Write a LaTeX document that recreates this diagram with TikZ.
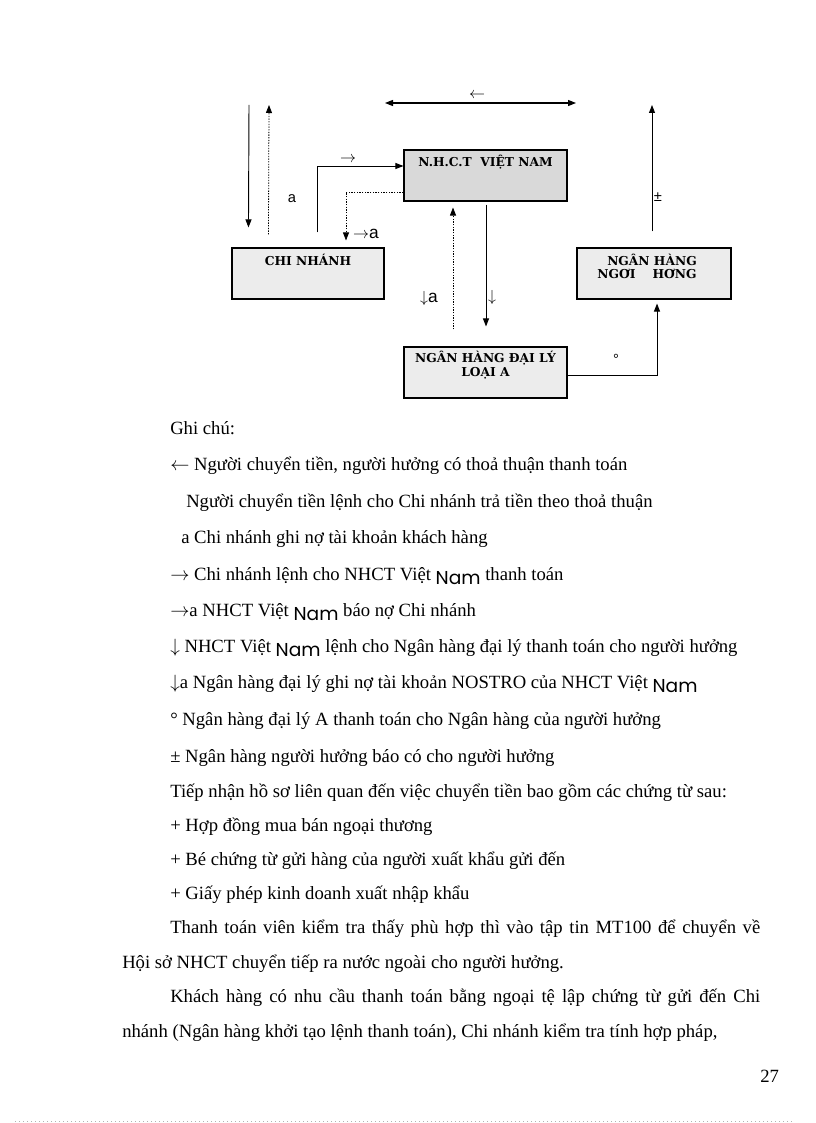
\documentclass[tikz,border=0pt]{standalone}
\usepackage{fontspec}
\setmainfont{Liberation Serif}
\newfontfamily\boxfont{DejaVu Serif}
\newfontfamily\tagfont{Liberation Sans}
\newfontfamily\namfont{Poppins}
\usetikzlibrary{positioning,arrows.meta,calc}
\def\nam{\raisebox{-3pt}{\namfont\fontsize{14}{14}\selectfont Nam}}

\tikzset{
  bank/.style={draw, line width=0.8pt, fill=gray!15, minimum height=38.25pt, inner sep=0pt},
  banktext/.style={anchor=base, inner sep=0pt, font=\boxfont\bfseries\fontsize{9.2}{11}\selectfont},
  flow/.style={->, line width=0.7pt},
  flowdot/.style={->, line width=0.6pt, dash pattern=on 1pt off 1pt},
  tag/.style={inner sep=0pt, font=\tagfont\fontsize{11}{11}\selectfont},
  ln/.style={anchor=base west, inner sep=0pt, font=\fontsize{14}{16}\selectfont}
}

\begin{document}
\begin{tikzpicture}[x=0.75pt, y=-0.75pt, >={Triangle[length=6pt,width=4.5pt]}]
\useasboundingbox (0,0) rectangle (816,1123);

\node [bank, fill=gray!30, minimum width=122.25pt] (nhct) at (485.5,175.5) {};
\node [bank, minimum width=114pt] (chinhanh) at (308,273.5) {};
\node [bank, minimum width=122.25pt] (daily) at (485.5,372.5) {};
\node [bank, minimum width=115.5pt] (huong) at (654,273.5) {};

\node [banktext] (nhcttxt) at ($(nhct.north)+(0,17)$) {N.H.C.T\ \ VIỆT NAM};
\node [banktext] (cntxt) at ($(chinhanh.north)+(0,18.5)$) {CHI NHÁNH};
\node [banktext] (dailytxt) at ($(daily.north)+(0,16.5)$) {NGÂN HÀNG ĐẠI LÝ};
\node [banktext] (dailytxtb) at ($(daily.north)+(0,30.5)$) {LOẠI A};
\node [banktext] (huongtxt) at ($(huong.north)+(-2,18.5)$) {NGÂN HÀNG};
\node [banktext] (huongtxtb) at ($(huong.north)+(-7,31.5)$) {NGƠI\ \ \ \ HƠNG};

\coordinate (topl) at (385,103);
\coordinate (topr) at (576,103);
\coordinate (kin) at (249,105);
\coordinate (kout) at (269,105);
\coordinate (hout) at (652,105);

\draw [<->, line width=0.8pt] (topl) -- (topr);
\draw [flow] (kin) -- ($(chinhanh.north west)+(17,-20)$);
\draw [flowdot] ($(chinhanh.north west)+(37,-13)$) -- (kout);
\draw [flow] ($(chinhanh.north)+(9,-15)$) |- ($(nhct.west)+(0,-9.5)$);
\draw [flowdot] ($(nhct.west)+(0,16.5)$) -| ($(chinhanh.north)+(38,-7)$);
\draw [flowdot] ($(daily.north)+(-32.5,-17)$) -- ($(nhct.south)+(-32.5,6)$);
\draw [flow] ($(nhct.south)+(0.5,3)$) -- ($(daily.north)+(0.5,-20)$);
\draw [flow] ($(huong.north)+(-2,-16)$) -- (hout);
\draw [flow] ($(daily.east)+(0,2.5)$) -| ($(huong.south)+(3,4)$);

\node [tag] (tagtop) at (477,96) {\fontsize{13}{13}\selectfont$\leftarrow$};
\node [tag] (taga) at (292,199) {a};
\node [tag] (tagright) at (348,160) {\fontsize{13}{13}\selectfont$\rightarrow$};
\node [tag] (tagrighta) at (366,234) {\fontsize{13}{13}\selectfont$\rightarrow$a};
\node [tag] (tagdowna) at (429,298) {\fontsize{13}{13}\selectfont$\downarrow$a};
\node [tag] (tagdown) at (492,297) {\fontsize{13}{13}\selectfont$\downarrow$};
\node [tag] (tagpm) at (658,197) {±};
\node [tag] (tagdeg) at (616,359) {°};

\node [ln] (ghichu) at (170,434) {Ghi chú:};
\node [ln] (l1) at (170,470) {$\leftarrow$ Người chuyển tiền, người hưởng có thoả thuận thanh toán};
\node [ln] (l2) at (186,507) {Người chuyển tiền lệnh cho Chi nhánh trả tiền theo thoả thuận};
\node [ln] (l3) at (181,543) {a Chi nhánh ghi nợ tài khoản khách hàng};
\node [ln] (l4) at (170,580) {$\rightarrow$ Chi nhánh lệnh cho NHCT Việt \nam\ thanh toán};
\node [ln] (l5) at (170,616) {$\rightarrow$a NHCT Việt \nam\ báo nợ Chi nhánh};
\node [ln] (l6) at (170,652) {$\downarrow$ NHCT Việt \nam\ lệnh cho Ngân hàng đại lý thanh toán cho người hưởng};
\node [ln] (l7) at (170,688) {$\downarrow$a Ngân hàng đại lý ghi nợ tài khoản NOSTRO của NHCT Việt \nam};
\node [ln] (l8) at (170,725) {° Ngân hàng đại lý A thanh toán cho Ngân hàng của người hưởng};
\node [ln] (l9) at (170,762) {± Ngân hàng người hưởng báo có cho người hưởng};
\node [ln] (l10) at (170,797) {Tiếp nhận hồ sơ liên quan đến việc chuyển tiền bao gồm các chứng từ sau:};
\node [ln] (l11) at (170,831) {+ Hợp đồng mua bán ngoại thương};
\node [ln] (l12) at (170,865) {+ Bé chứng từ gửi hàng của người xuất khẩu gửi đến};
\node [ln] (l13) at (170,899) {+ Giấy phép kinh doanh xuất nhập khẩu};
\node [ln] (l14) at (170,933) {\makebox[442.5pt][s]{Thanh toán viên kiểm tra thấy phù hợp thì vào tập tin MT100 để chuyển về}};
\node [ln] (l15) at (122,968) {Hội sở NHCT chuyển tiếp ra nước ngoài cho người hưởng.};
\node [ln] (l16) at (170,1002) {\makebox[442.5pt][s]{Khách hàng có nhu cầu thanh toán bằng ngoại tệ lập chứng từ gửi đến Chi}};
\node [ln] (l17) at (122,1037) {nhánh (Ngân hàng khởi tạo lệnh thanh toán), Chi nhánh kiểm tra tính hợp pháp,};
\node [ln] (pageno) at (760,1082) {27};

\coordinate (rulel) at (15,1121.5);
\coordinate (ruler) at (793,1121.5);
\draw [gray!60, line width=0.5pt, dash pattern=on 0.75pt off 2.25pt] (rulel) -- (ruler);
\end{tikzpicture}
\end{document}
